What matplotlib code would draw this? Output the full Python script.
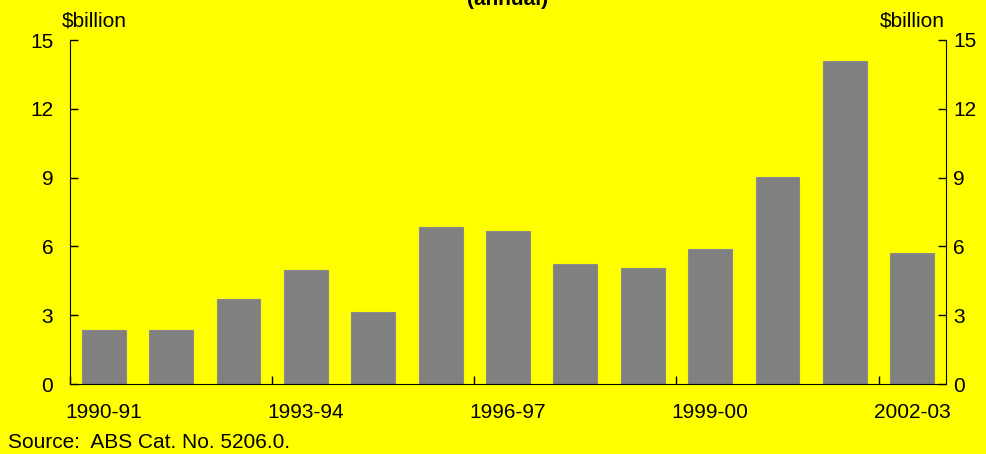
import numpy as np
import matplotlib
matplotlib.use('Agg')
import matplotlib.pyplot as plt

plt.rcParams['font.family'] = ['Liberation Sans', 'DejaVu Sans']

# data
years = ['1990-91', '1991-92', '1992-93', '1993-94', '1994-95', '1995-96', '1996-97',
         '1997-98', '1998-99', '1999-00', '2000-01', '2001-02', '2002-03']
values = [2.35, 2.35, 3.7, 4.97, 3.14, 6.85, 6.67, 5.23, 5.06, 5.89, 9.03, 14.09, 5.71]
yticks = [0, 3, 6, 9, 12, 15]
label_idx = [0, 3, 6, 9, 12]

bg = '#ffff00'
fs = 15
fig = plt.figure(figsize=(9.86, 4.54), dpi=100, facecolor=bg)
ax = fig.add_axes([70/986, 70/454, 876/986, 344/454], facecolor=bg)

x = np.arange(len(years))
ax.bar(x, values, width=0.65, color='#808080', edgecolor='#8a8a8a', linewidth=0.8, zorder=2)

ax.set_xlim(-0.5, len(years) - 0.5)
ax.set_ylim(0, 15)

ax.spines['top'].set_visible(False)
ax.spines['right'].set_visible(False)

# left axis
ax.set_yticks(yticks)
ax.tick_params(axis='y', direction='in', length=6, width=1, labelsize=fs, pad=12)

# right axis
ax2 = ax.twinx()
ax2.set_ylim(0, 15)
ax2.set_yticks(yticks)
ax2.tick_params(axis='y', direction='in', length=6, width=1, labelsize=fs, pad=5)
for s in ['top', 'left', 'bottom']:
    ax2.spines[s].set_visible(False)

# x labels every 3 years, tick marks at group boundaries
ax.set_xticks([x[i] for i in label_idx])
ax.set_xticklabels([years[i] for i in label_idx])
ax.set_xticks(np.arange(-0.5, len(years), 3), minor=True)
ax.tick_params(axis='x', which='major', length=0, labelsize=fs, pad=14)
ax.tick_params(axis='x', which='minor', direction='in', length=6, width=1)

fig.text(62/986, 1 - 26/454, r'\$billion', fontsize=fs, va='baseline', ha='left')
fig.text(945/986, 1 - 26/454, r'\$billion', fontsize=fs, va='baseline', ha='right')
fig.text(508/986, 1 - 5/454, '(annual)', fontsize=fs, fontweight='bold', va='baseline', ha='center')
fig.text(8/986, 1 - 448/454, 'Source:  ABS Cat. No. 5206.0.', fontsize=fs, va='baseline', ha='left')

fig.savefig('out.png', dpi=100, facecolor=bg)
